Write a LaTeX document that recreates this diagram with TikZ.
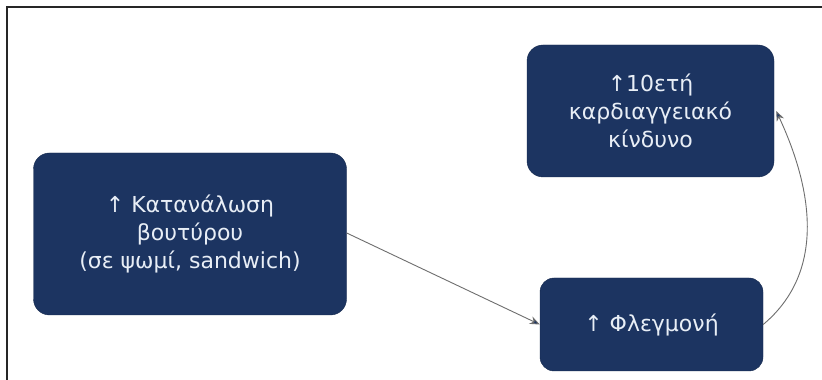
\documentclass[tikz,border=0pt]{standalone}
\usepackage{fontspec}
\setmainfont{DejaVu Sans}
\usetikzlibrary{arrows.meta}
\definecolor{navybox}{HTML}{1C3461}
\definecolor{boxtext}{HTML}{E8EEF6}
\definecolor{linkgray}{HTML}{6E6E6E}
\tikzset{
  factbox/.style={draw=navybox!80!black, fill=navybox, rounded corners=16pt,
    text=boxtext, align=center, inner sep=0pt,
    font=\fontsize{22}{28}\selectfont},
  link/.style={draw=linkgray, line width=0.9pt,
    -{Stealth[length=10pt,width=8pt,fill=navybox]}}
}
\begin{document}
\begin{tikzpicture}[x=1pt,y=1pt]
\useasboundingbox (0,0) rectangle (822,380);
\fill[white] (0,0) rectangle (822,380);
% frame, only top and left
\draw[line width=2.2pt, black!85] (7,0) -- (7,373) -- (822,373);

\node[factbox, minimum width=313pt, minimum height=162pt] (butter) at (190,146)
  {↑ Κατανάλωση\\βουτύρου\\(σε ψωμί, sandwich)};
\node[factbox, minimum width=247pt, minimum height=132pt] (risk) at (650.5,269)
  {↑10ετή\\καρδιαγγειακό\\κίνδυνο};
\node[factbox, rounded corners=14pt, minimum width=223pt, minimum height=93pt] (inflam) at (651.5,55.5)
  {↑ Φλεγμονή};

\draw[link] (butter.east) ++(0,1) -- (inflam.west);
\draw[link] (inflam.east) to[out=40, in=-65] ([xshift=2pt]risk.east);
\end{tikzpicture}
\end{document}
